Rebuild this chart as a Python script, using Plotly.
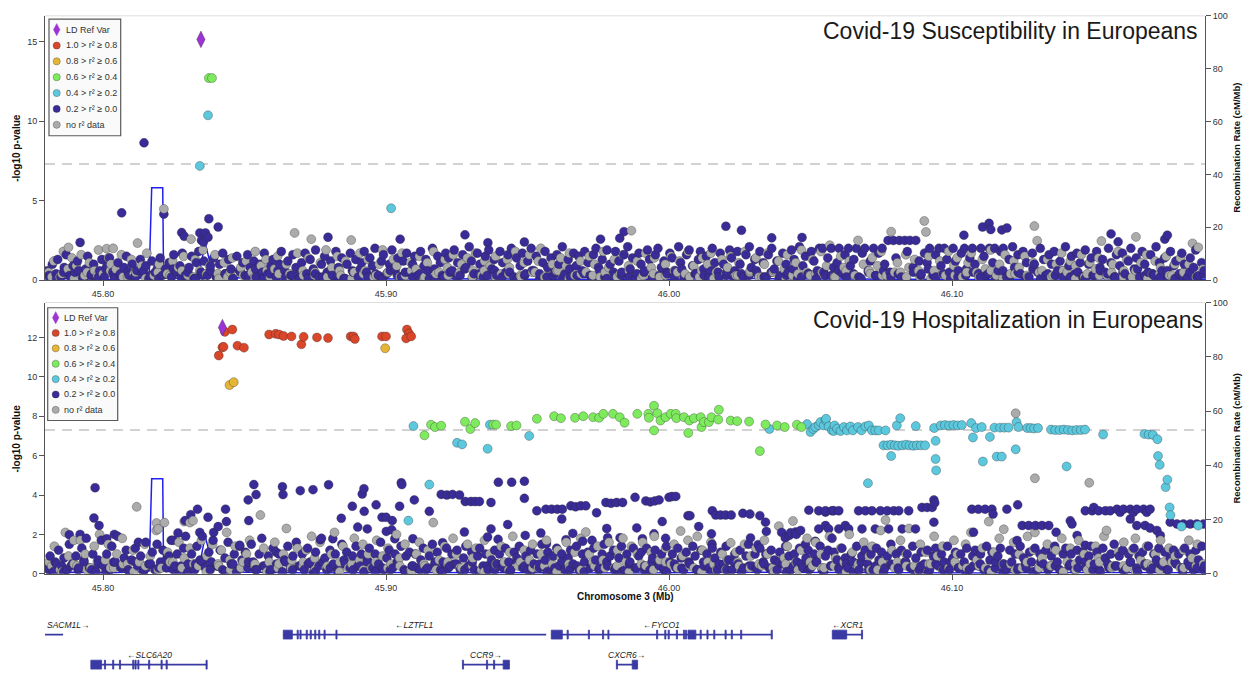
import plotly.graph_objects as go

W, H = 1250, 679
FONT = "Liberation Sans, Arial, Helvetica, sans-serif"
AXIS_COLOR = "#555555"
TEXT_COLOR = "#333333"

# ---------------------------------------------------------------- region / axes
REGION_START_KB = 45780          # positions below are kb offsets from chr3:45,780,000
X_RANGE_MB = [45.7795, 46.1894]
X_TICKS_MB = [45.80, 45.90, 46.00, 46.10]
X_TICK_TEXT = ["45.80", "45.90", "46.00", "46.10"]
GWS_LOG10P = 7.30103             # genome-wide significance, p = 5e-8

SUSC_P_RANGE = [0, 16.61]
SUSC_P_TICKS = [0, 5, 10, 15]
HOSP_P_RANGE = [0, 13.77]
HOSP_P_TICKS = [0, 2, 4, 6, 8, 10, 12]
RECOMB_TICKS = [0, 20, 40, 60, 80, 100]

PANEL_TITLES = ["Covid-19 Susceptibility in Europeans",
                "Covid-19 Hospitalization in Europeans"]

LD_LABELS = ["LD Ref Var", "1.0 > r² ≥ 0.8", "0.8 > r² ≥ 0.6", "0.6 > r² ≥ 0.4",
             "0.4 > r² ≥ 0.2", "0.2 > r² ≥ 0.0", "no r² data"]
LD_COLORS = ["#9B34D2", "#D9462A", "#E5B535", "#7DEB5D", "#5CC8DE", "#3A2C98", "#ABABAB"]

# ---------------------------------------------------------------- recombination rate (cM/Mb)
recomb_kb = [0, 10, 22, 30, 36.3, 37.2, 41.1, 41.4, 48, 53.9, 56.1, 58.9, 70, 95,
             130, 170, 210, 250, 290, 330, 370, 409.5]
recomb_rate = [0.4, 0.6, 0.3, 0.8, 1.0, 35.0, 35.0, 1.0, 0.5, 2.0, 14.0, 2.0, 0.6, 0.3,
               0.5, 0.4, 0.3, 0.6, 0.4, 0.3, 0.5, 0.4]

# ---------------------------------------------------------------- susceptibility GWAS (kb, -log10 p)
susc_ref = [(54.6, 15.13)]
susc_r2_04_06 = [(57.4, 12.7), (58.5, 12.7)]
susc_r2_02_04 = [(57.1, 10.36), (54.2, 7.18), (121.8, 4.52)]
susc_r2_00_02 = [
    (34.5, 8.63), (26.6, 4.23), (41.5, 4.15), (57.4, 3.86), (60.7, 3.34), (47.8, 2.99), (48.7, 2.76),
    (54.2, 2.97), (56.2, 2.97), (54.8, 2.5), (55.5, 2.4), (57.1, 2.7), (11.9, 2.37), (99.5, 2.7),
    (125.0, 2.58), (147.9, 2.85), (204.1, 3.05), (202.6, 2.64), (195.8, 2.58), (240.1, 3.39),
    (245.6, 3.14), (256.3, 2.66), (267.0, 2.68), (156.0, 2.35), (168.9, 2.4), (330.8, 3.34),
    (333.1, 3.57), (333.7, 3.18), (337.6, 3.16), (339.4, 3.28), (324.2, 2.83), (376.2, 2.91),
    (378.7, 2.41), (396.1, 2.83), (395.2, 2.58),
    (0.3, 0.6), (1.2, 0.1), (2.1, 1.0), (3.4, 0.4), (4.0, 1.3), (5.1, 0.2), (6.3, 0.8), (7.0, 1.6), (8.2, 0.3), (9.4, 0.9),
    (10.1, 0.5), (11.0, 1.2), (12.8, 0.2), (13.9, 0.7), (14.6, 1.5), (15.8, 0.3), (16.7, 1.0), (17.9, 0.1), (18.8, 0.6), (19.6, 1.3),
    (20.5, 0.2), (21.4, 0.9), (22.3, 1.4), (23.5, 0.5), (24.2, 0.1), (25.3, 1.1), (26.1, 0.4), (27.4, 0.8), (28.3, 1.5), (29.2, 0.3),
    (30.3, 1.0), (31.1, 0.2), (32.0, 0.6), (33.2, 1.3), (34.0, 0.4), (35.1, 0.9), (36.2, 0.1), (37.3, 1.2), (38.4, 0.5), (39.3, 0.8),
    (40.2, 1.4), (41.0, 0.3), (42.1, 0.7), (43.3, 1.1), (44.2, 0.2), (45.0, 1.6), (46.1, 0.5), (47.2, 0.9), (48.0, 1.7), (49.1, 0.3),
    (50.4, 0.8), (51.3, 1.5), (52.2, 0.1), (53.0, 1.1), (53.8, 1.8), (54.6, 0.5), (55.7, 1.2), (56.9, 0.3), (58.0, 0.9), (59.1, 1.4),
    (60.0, 0.2), (61.2, 1.0), (62.3, 1.7), (63.1, 0.4), (64.4, 1.3), (65.2, 0.7), (66.0, 0.1), (67.3, 1.5), (68.2, 0.6), (69.4, 1.1),
    (70.2, 0.3), (71.1, 1.6), (72.0, 0.8), (73.3, 1.2), (74.1, 0.2), (75.4, 1.0), (76.3, 0.5), (77.0, 1.7), (78.2, 0.4), (79.3, 0.9),
    (80.1, 1.3), (81.2, 0.2), (82.4, 1.0), (83.0, 1.8), (84.2, 0.6), (85.3, 1.2), (86.4, 0.3), (87.1, 1.6), (88.2, 0.8), (89.3, 0.1),
    (90.2, 1.1), (91.4, 1.7), (92.0, 0.4), (93.2, 1.3), (94.3, 0.7), (95.1, 1.9), (96.4, 0.2), (97.2, 1.0), (98.3, 1.5), (99.2, 0.5),
    (100.4, 1.2), (101.1, 0.3), (102.3, 1.8), (103.2, 0.8), (104.4, 1.4), (105.1, 0.1), (106.2, 1.0), (107.4, 1.7), (108.1, 0.6), (109.3, 1.3),
    (110.2, 0.2), (111.4, 1.1), (112.3, 1.8), (113.1, 0.5), (114.3, 1.4), (115.2, 0.9), (116.1, 2.0), (117.3, 0.3), (118.4, 1.2), (119.1, 1.6),
    (120.3, 0.4), (121.2, 1.0), (122.1, 1.9), (123.3, 0.7), (124.2, 1.4), (125.4, 0.2), (126.1, 1.2), (127.3, 1.7), (128.2, 0.5), (129.4, 1.0),
    (130.1, 1.5), (131.3, 0.3), (132.2, 1.8), (133.4, 0.9), (134.1, 1.3), (135.3, 0.1), (136.4, 2.0), (137.1, 0.7), (138.3, 1.5), (139.2, 1.1),
    (140.4, 0.2), (141.1, 1.7), (142.2, 1.4), (143.4, 0.6), (144.1, 1.9), (145.3, 1.1), (146.2, 0.3), (147.1, 1.6), (148.3, 0.8), (149.4, 2.1),
    (150.2, 1.2), (151.1, 0.4), (152.3, 1.7), (153.2, 1.0), (154.4, 0.2), (155.1, 1.5), (156.3, 1.9), (157.4, 0.7), (158.2, 1.3), (159.1, 0.3),
    (160.3, 1.8), (161.2, 1.1), (162.4, 0.5), (163.1, 1.6), (164.3, 2.0), (165.2, 0.2), (166.1, 1.4), (167.4, 0.9), (168.2, 1.7), (169.3, 0.4),
    (170.1, 1.2), (171.3, 2.0), (172.2, 0.6), (173.1, 1.5), (174.3, 0.1), (175.4, 1.1), (176.2, 1.8), (177.1, 0.8), (178.3, 1.4), (179.2, 0.3),
    (180.4, 1.6), (181.1, 1.0), (182.3, 2.1), (183.2, 0.4), (184.4, 1.3), (185.1, 0.2), (186.3, 1.7), (187.2, 0.9), (188.1, 1.5), (189.3, 0.6),
    (190.2, 1.8), (191.4, 1.1), (192.1, 0.3), (193.3, 1.6), (194.2, 2.0), (195.1, 0.8), (196.4, 1.3), (197.3, 0.2), (198.1, 1.9), (199.2, 1.0),
    (200.4, 0.5), (201.1, 1.8), (202.3, 1.2), (203.2, 0.3), (204.1, 1.6), (205.4, 2.1), (206.3, 0.7), (207.1, 1.4), (208.2, 0.1), (209.4, 1.7),
    (210.1, 1.0), (211.2, 0.5), (212.4, 1.9), (213.1, 1.3), (214.3, 0.2), (215.2, 1.6), (216.1, 2.0), (217.3, 0.8), (218.2, 1.2), (219.4, 0.4),
    (220.3, 1.7), (221.1, 1.4), (222.2, 0.6), (223.4, 2.1), (224.1, 1.1), (225.3, 0.2), (226.2, 1.6), (227.1, 1.9), (228.3, 0.9), (229.2, 0.4),
    (230.4, 1.3), (231.1, 1.8), (232.3, 0.7), (233.2, 1.5), (234.1, 0.2), (235.3, 2.0), (236.2, 1.1), (237.4, 0.5), (238.1, 1.7), (239.3, 1.0),
    (240.2, 0.3), (241.4, 1.9), (242.1, 1.4), (243.3, 0.6), (244.2, 1.8), (245.1, 1.0), (246.3, 0.2), (247.2, 1.6), (248.4, 2.1), (249.1, 0.8),
    (250.3, 1.3), (251.2, 0.4), (252.1, 1.8), (253.3, 1.1), (254.4, 0.2), (255.1, 1.6), (256.3, 2.0), (257.2, 0.7), (258.1, 1.2), (259.3, 0.3),
    (260.2, 1.7), (261.4, 1.0), (262.1, 0.5), (263.3, 1.9), (264.2, 1.3), (265.4, 0.1), (266.1, 2.1), (267.3, 0.9), (268.2, 1.5), (269.1, 0.4),
    (270.3, 1.8), (271.2, 1.2), (272.4, 0.6), (273.1, 2.0), (274.3, 2.0), (275.2, 0.3), (276.1, 1.4), (277.3, 2.0), (278.2, 0.8), (279.4, 1.1),
    (280.1, 2.0), (281.3, 0.4), (282.2, 1.6), (283.4, 2.0), (284.1, 0.9), (285.3, 1.3), (286.2, 2.0), (287.1, 0.2), (288.3, 1.7), (289.2, 2.0),
    (290.4, 0.6), (291.1, 1.2), (292.3, 2.0), (293.2, 0.3), (294.1, 1.7), (295.3, 2.0), (296.2, 1.0), (297.4, 2.5), (298.1, 0.5), (299.3, 2.5),
    (300.2, 1.4), (301.4, 2.5), (302.1, 0.2), (303.3, 2.5), (304.2, 1.8), (305.1, 2.5), (306.3, 0.8), (307.2, 2.5), (308.4, 1.2), (309.1, 0.4),
    (310.3, 1.7), (311.2, 1.1), (312.1, 2.0), (313.3, 0.3), (314.2, 1.6), (315.4, 2.0), (316.1, 0.9), (317.3, 2.0), (318.2, 1.3), (319.1, 0.5),
    (320.4, 2.0), (321.2, 1.2), (322.1, 0.2), (323.3, 1.7), (324.4, 2.0), (325.1, 0.7), (326.3, 1.4), (327.2, 2.0), (328.1, 1.0), (329.4, 0.4),
    (330.2, 2.0), (331.3, 1.5), (332.1, 0.3), (333.2, 2.0), (334.4, 1.1), (335.1, 2.0), (336.3, 0.6), (337.2, 1.8), (338.1, 2.0), (339.3, 0.2),
    (340.2, 1.3), (341.4, 2.1), (342.1, 0.8), (343.3, 1.6), (344.2, 0.4), (345.1, 1.8), (346.3, 1.1), (347.2, 0.2), (348.4, 1.7), (349.1, 1.0),
    (350.3, 0.5), (351.2, 2.0), (352.4, 1.3), (353.1, 0.3), (354.3, 1.6), (355.2, 1.0), (356.1, 1.8), (357.3, 0.6), (358.2, 1.2), (359.4, 0.2),
    (360.1, 2.1), (361.3, 0.9), (362.2, 1.5), (363.4, 0.4), (364.1, 1.7), (365.3, 1.1), (366.2, 0.2), (367.1, 1.9), (368.3, 1.0), (369.2, 1.4),
    (370.4, 0.3), (371.1, 1.8), (372.3, 0.8), (373.2, 1.3), (374.1, 0.5), (375.3, 2.0), (376.2, 1.1), (377.4, 0.2), (378.1, 1.6), (379.3, 0.9),
    (380.2, 1.7), (381.1, 0.4), (382.3, 1.2), (383.2, 2.0), (384.4, 0.7), (385.1, 1.4), (386.3, 0.2), (387.2, 1.8), (388.1, 1.0), (389.3, 0.5),
    (390.2, 1.6), (391.4, 0.3), (392.1, 2.1), (393.3, 1.1), (394.2, 0.6), (395.1, 1.4), (396.3, 0.2), (397.2, 1.8), (398.4, 0.9), (399.1, 1.2),
    (400.3, 0.4), (401.2, 1.7), (402.1, 1.0), (403.3, 0.2), (404.2, 1.4), (405.4, 0.8), (406.1, 1.9), (407.3, 0.3), (408.2, 1.1), (409.1, 0.6),
    (0.9, 0.3), (3.6, 0.1), (6.1, 0.5), (8.7, 0.2), (11.4, 0.6), (13.2, 0.1), (16.0, 0.4), (18.4, 0.2), (21.0, 0.7), (23.8, 0.3),
    (26.5, 0.1), (28.9, 0.5), (31.5, 0.2), (34.3, 0.6), (36.8, 0.3), (39.7, 0.1), (42.4, 0.4), (44.9, 0.7), (47.6, 0.2), (50.0, 0.5),
    (52.7, 0.1), (55.2, 0.3), (57.9, 0.6), (60.5, 0.2), (63.3, 0.4), (65.9, 0.1), (68.6, 0.5), (71.4, 0.3), (73.9, 0.7), (76.7, 0.1),
    (79.0, 0.4), (81.8, 0.6), (84.5, 0.2), (87.0, 0.3), (89.8, 0.5), (92.5, 0.1), (95.0, 0.4), (97.7, 0.2), (100.3, 0.6), (103.0, 0.3),
    (105.6, 0.1), (108.4, 0.5), (110.9, 0.7), (113.6, 0.2), (116.3, 0.4), (118.8, 0.1), (121.5, 0.6), (124.0, 0.3), (126.8, 0.5), (129.5, 0.2),
    (132.0, 0.4), (134.7, 0.6), (137.4, 0.1), (139.9, 0.3), (142.6, 0.5), (145.0, 0.2), (147.8, 0.7), (150.5, 0.1), (153.0, 0.4), (155.8, 0.3),
    (158.4, 0.6), (161.0, 0.2), (163.7, 0.5), (166.4, 0.1), (169.0, 0.3), (171.6, 0.6), (174.3, 0.4), (176.9, 0.2), (179.6, 0.5), (182.2, 0.1),
    (184.9, 0.7), (187.5, 0.3), (190.0, 0.4), (192.8, 0.2), (195.5, 0.6), (198.0, 0.1), (200.8, 0.3), (203.3, 0.5), (206.0, 0.2), (208.7, 0.4),
    (211.3, 0.6), (214.0, 0.1), (216.6, 0.3), (219.2, 0.5), (221.9, 0.2), (224.5, 0.7), (227.0, 0.1), (229.8, 0.4), (232.4, 0.3), (235.1, 0.6),
    (237.7, 0.2), (240.4, 0.5), (243.0, 0.1), (245.6, 0.4), (248.3, 0.3), (250.9, 0.6), (253.6, 0.2), (256.1, 0.5), (258.9, 0.1), (261.5, 0.3),
    (264.0, 0.7), (266.8, 0.2), (269.4, 0.4), (272.0, 0.1), (274.7, 0.5), (277.4, 0.3), (280.0, 0.6), (282.7, 0.2), (285.2, 0.4), (287.9, 0.1),
    (290.5, 0.5), (293.0, 0.3), (295.8, 0.6), (298.4, 0.2), (301.0, 0.4), (303.7, 0.1), (306.4, 0.5), (309.0, 0.3), (311.6, 0.7), (314.3, 0.2),
    (316.9, 0.4), (319.5, 0.1), (322.2, 0.6), (324.9, 0.3), (327.5, 0.5), (330.0, 0.2), (332.8, 0.4), (335.4, 0.1), (338.0, 0.6), (340.7, 0.3),
    (343.4, 0.5), (345.9, 0.2), (348.6, 0.7), (351.3, 0.1), (353.9, 0.4), (356.5, 0.3), (359.2, 0.6), (361.8, 0.2), (364.5, 0.5), (367.1, 0.1),
    (369.8, 0.3), (372.4, 0.6), (375.0, 0.4), (377.7, 0.2), (380.4, 0.5), (383.0, 0.1), (385.6, 0.7), (388.2, 0.3), (390.9, 0.4), (393.6, 0.2),
    (396.1, 0.6), (398.8, 0.1), (401.5, 0.3), (404.0, 0.5), (406.6, 0.2), (409.0, 0.4),
]
susc_no_r2 = [
    (41.5, 4.48), (51.1, 2.58), (32.2, 2.33), (21.3, 1.98), (23.6, 2.0), (7.8, 2.06), (87.7, 2.97),
    (107.7, 2.52), (93.6, 2.58), (206.7, 3.11), (310.2, 3.72), (310.8, 3.03), (298.5, 3.05),
    (349.1, 3.4), (350.1, 2.48), (372.8, 2.46), (405.0, 2.31), (407.0, 2.06), (385.0, 2.72),
    (0.8, 0.5), (2.6, 1.2), (4.7, 0.2), (6.0, 1.8), (7.6, 0.7), (9.0, 1.4),
    (10.6, 0.9), (12.3, 1.6), (13.5, 0.3), (15.2, 1.1), (17.0, 0.6), (18.4, 1.9),
    (20.0, 0.4), (21.9, 1.4), (22.8, 1.0), (24.6, 0.7), (26.5, 1.6), (28.7, 0.2),
    (30.0, 1.3), (31.6, 0.5), (33.7, 0.9), (35.5, 1.7), (38.0, 0.3),
    (39.8, 1.0), (42.7, 0.4), (44.6, 1.2), (46.6, 0.8), (48.5, 1.5),
    (50.0, 0.3), (52.6, 1.3), (54.2, 0.6), (55.3, 1.9), (57.6, 0.9),
    (59.6, 1.6), (60.6, 0.4), (62.8, 1.1), (64.0, 0.2), (65.7, 1.4), (68.7, 0.8),
    (70.6, 1.2), (72.6, 0.5), (73.8, 1.8), (75.8, 0.9), (77.6, 1.3), (79.0, 0.2),
    (80.6, 0.7), (81.7, 1.5), (84.8, 1.0), (85.9, 0.4), (88.7, 1.7),
    (90.6, 0.6), (92.6, 1.4), (94.8, 0.3), (96.8, 1.1), (98.8, 1.9),
    (100.9, 0.8), (102.8, 1.5), (104.0, 0.3), (105.7, 1.2), (108.8, 0.5),
    (110.8, 1.7), (112.6, 0.6), (113.6, 1.3), (115.7, 0.2), (117.6, 1.0), (118.8, 1.9),
    (120.8, 0.5), (122.6, 1.3), (123.8, 0.9), (125.7, 1.7), (126.8, 0.3), (128.7, 1.1),
    (130.6, 0.7), (131.8, 1.5), (133.7, 0.2), (134.6, 1.1), (136.8, 1.8), (138.7, 0.5),
    (140.8, 1.3), (141.7, 0.8), (143.7, 1.6), (145.8, 0.4), (146.7, 1.0), (148.7, 1.4),
    (150.7, 0.6), (151.6, 1.7), (153.8, 0.3), (154.8, 1.2), (156.8, 0.9), (158.7, 1.5),
    (160.7, 0.4), (162.8, 1.3), (163.6, 0.8), (165.7, 1.8), (167.7, 0.2), (168.8, 1.1),
    (170.7, 1.6), (172.7, 0.5), (173.8, 1.2), (174.7, 2.0), (176.7, 0.3), (178.8, 1.0),
    (180.8, 0.6), (181.7, 1.4), (183.7, 0.9), (184.8, 1.7), (186.7, 0.3), (188.7, 1.2),
    (190.7, 0.5), (191.8, 1.5), (193.7, 1.0), (195.7, 0.2), (196.8, 1.8), (198.7, 0.8),
    (200.7, 1.3), (202.7, 0.4), (203.8, 1.6), (205.7, 0.9), (208.8, 1.2),
    (210.8, 0.3), (211.7, 1.7), (213.7, 0.8), (214.8, 1.4), (216.7, 0.2), (218.7, 1.0),
    (220.7, 1.5), (221.8, 0.6), (223.7, 1.2), (225.7, 0.4), (226.8, 1.8), (228.7, 0.9),
    (230.7, 0.2), (231.8, 1.4), (233.7, 1.0), (234.8, 1.7), (236.7, 0.5), (238.7, 1.3),
    (240.7, 0.8), (241.8, 1.5), (243.7, 0.3), (244.7, 1.1), (246.8, 1.8), (248.7, 0.6),
    (250.7, 1.4), (251.8, 0.2), (253.7, 1.0), (254.8, 1.7), (256.8, 0.5), (258.7, 1.2),
    (260.7, 0.7), (261.8, 1.6), (263.7, 0.3), (264.8, 1.1), (266.8, 1.9), (268.7, 0.5),
    (270.7, 1.3), (271.8, 0.4), (273.7, 1.8), (275.7, 0.9), (276.8, 2.2), (278.7, 0.2),
    (280.7, 1.5), (281.8, 0.8), (283.7, 1.2), (285.7, 0.3), (286.8, 2.5), (288.7, 1.0),
    (290.7, 0.6), (291.8, 1.4), (293.7, 0.9), (295.0, 1.8), (296.8, 0.3),
    (300.7, 1.1), (301.8, 0.5), (303.7, 1.6), (304.8, 0.8), (306.8, 1.3), (308.7, 0.2),
    (311.8, 1.5), (313.7, 0.6), (315.7, 1.2), (317.7, 0.3), (318.8, 1.8),
    (320.7, 0.9), (321.8, 1.4), (323.7, 0.2), (325.7, 1.1), (326.8, 1.7), (328.7, 0.5),
    (330.7, 1.3), (331.8, 0.7), (333.7, 1.9), (335.7, 0.3), (336.8, 1.0), (338.7, 1.6),
    (340.7, 0.4), (341.8, 1.2), (343.7, 0.8), (345.7, 1.5), (346.8, 0.2), (348.7, 1.1),
    (351.8, 0.6), (353.7, 1.3), (355.7, 0.3), (356.8, 1.0), (358.7, 1.7),
    (360.7, 0.5), (361.8, 1.2), (363.7, 0.9), (365.7, 1.6), (366.8, 0.2), (368.7, 1.1),
    (370.7, 0.7), (371.8, 1.4), (374.7, 0.3), (376.8, 1.0), (378.7, 1.8),
    (380.7, 0.6), (381.8, 1.3), (383.7, 0.2), (386.8, 1.1), (388.7, 1.6),
    (390.7, 0.4), (391.8, 1.2), (393.7, 0.8), (395.7, 1.5), (396.8, 0.3), (398.7, 1.0),
    (400.7, 1.4), (401.8, 0.5), (403.7, 1.0), (408.7, 0.7),
    (1.9, 0.2), (5.5, 0.4), (9.8, 0.1), (14.4, 0.5), (18.0, 0.3), (22.6, 0.6), (27.1, 0.2), (30.9, 0.4), (35.0, 0.1), (39.4, 0.5),
    (43.7, 0.3), (47.9, 0.6), (52.0, 0.2), (56.5, 0.4), (60.9, 0.1), (65.0, 0.5), (69.5, 0.3), (73.6, 0.2), (77.9, 0.6), (82.1, 0.4),
    (86.4, 0.1), (90.8, 0.3), (94.9, 0.5), (99.3, 0.2), (103.6, 0.6), (107.9, 0.1), (112.0, 0.4), (116.4, 0.3), (120.6, 0.5), (124.9, 0.2),
    (129.0, 0.6), (133.4, 0.1), (137.7, 0.4), (141.9, 0.3), (146.1, 0.5), (150.5, 0.2), (154.7, 0.6), (159.0, 0.1), (163.3, 0.4), (167.5, 0.3),
    (171.8, 0.5), (176.0, 0.2), (180.3, 0.6), (184.6, 0.1), (188.9, 0.4), (193.1, 0.3), (197.4, 0.5), (201.7, 0.2), (205.9, 0.6), (210.2, 0.1),
    (214.5, 0.4), (218.8, 0.3), (223.0, 0.5), (227.3, 0.2), (231.5, 0.6), (235.8, 0.1), (240.0, 0.4), (244.3, 0.3), (248.6, 0.5), (252.8, 0.2),
    (257.1, 0.6), (261.3, 0.1), (265.6, 0.4), (269.9, 0.3), (274.1, 0.5), (278.4, 0.2), (282.6, 0.6), (286.9, 0.1), (291.2, 0.4), (295.4, 0.3),
    (299.7, 0.5), (303.9, 0.2), (308.2, 0.6), (312.5, 0.1), (316.7, 0.4), (321.0, 0.3), (325.2, 0.5), (329.5, 0.2), (333.8, 0.6), (338.0, 0.1),
    (342.3, 0.4), (346.5, 0.3), (350.8, 0.5), (355.1, 0.2), (359.3, 0.6), (363.6, 0.1), (367.8, 0.4), (372.1, 0.3), (376.4, 0.5), (380.6, 0.2),
    (384.9, 0.6), (389.1, 0.1), (393.4, 0.4), (397.7, 0.3), (401.9, 0.5), (406.2, 0.2),
]

# ---------------------------------------------------------------- hospitalization GWAS (kb, -log10 p)
hosp_ref = [(62.2, 12.5)]
hosp_r2_08_10 = [
    (63.1, 12.28), (65.7, 12.4), (62.2, 11.5), (62.6, 11.52), (60.9, 11.08), (67.5, 11.58), (69.8, 11.48),
    (78.7, 12.15), (81.0, 12.18), (82.2, 12.15), (83.8, 12.07), (86.6, 12.05), (90.1, 11.65), (90.9, 12.03),
    (95.6, 12.0), (99.5, 11.97), (107.5, 12.05), (108.5, 12.05), (109.0, 11.92), (118.6, 12.05),
    (120.0, 12.05), (127.4, 12.4), (128.1, 12.2), (127.1, 11.95), (128.9, 12.05),
]
hosp_r2_06_08 = [(64.7, 9.58), (66.2, 9.73), (119.7, 11.45)]
hosp_r2_04_06 = [
    (133.6, 7.03), (135.9, 7.57), (137.3, 7.45), (139.5, 7.52), (147.9, 7.72), (149.8, 7.35), (151.5, 7.65),
    (157.9, 7.57), (158.9, 7.57), (164.2, 7.5), (166.1, 7.53), (173.3, 7.87), (179.4, 8.0), (181.8, 7.9),
    (186.8, 7.92), (189.7, 8.0), (193.2, 7.95), (195.3, 7.92), (196.8, 8.12), (200.2, 8.12), (202.6, 7.95),
    (204.3, 7.67), (208.8, 8.12), (212.7, 8.12), (212.9, 7.92), (214.7, 8.53), (214.7, 7.28), (215.9, 8.15),
    (217.0, 7.78), (218.8, 7.95), (220.6, 8.12), (222.4, 8.12), (222.6, 7.9), (225.3, 7.95), (226.8, 7.15),
    (227.2, 7.78), (228.8, 7.9), (231.2, 7.95), (231.5, 7.45), (232.3, 7.7), (234.1, 7.7), (235.0, 7.95),
    (237.6, 8.33), (237.4, 7.83), (241.8, 7.78), (244.1, 7.75), (248.3, 7.73), (252.1, 6.23), (254.1, 7.58),
    (258.2, 7.53), (260.9, 7.45), (265.2, 7.57), (266.8, 7.45),
]
hosp_r2_02_04 = [
    (129.7, 7.5), (127.9, 2.7), (135.3, 4.53), (145.1, 6.65), (146.9, 6.57), (155.9, 6.35), (156.7, 7.57),
    (170.6, 7.0), (255.5, 7.35),
    (268.8, 7.6), (270.0, 7.2), (271.0, 7.35), (271.7, 7.45), (272.9, 7.55), (273.5, 7.7), (274.7, 7.53),
    (275.3, 7.8), (275.5, 7.87), (276.4, 7.48), (277.6, 7.28), (278.2, 7.25), (278.5, 7.53), (279.4, 7.37),
    (280.6, 7.25), (281.8, 7.45), (282.9, 7.28), (284.1, 7.48), (285.0, 7.28), (286.8, 7.45), (288.0, 7.28),
    (289.4, 7.48), (290.3, 4.6), (290.6, 7.53), (291.7, 7.28), (292.9, 7.28), (294.1, 7.28), (296.5, 7.28),
    (295.8, 6.52), (297.2, 6.52), (298.5, 6.55), (299.8, 6.52), (301.0, 6.5), (302.5, 6.52), (303.8, 6.55),
    (305.0, 6.52), (306.3, 6.5), (307.6, 6.52), (309.0, 6.52), (310.5, 6.52),
    (298.5, 5.98), (300.5, 7.53), (301.7, 7.9), (307.2, 7.5),
    (313.7, 7.4), (314.2, 6.75), (314.2, 5.83), (314.4, 5.25), (316.0, 7.53), (317.5, 7.55), (319.0, 7.53),
    (320.5, 7.55), (322.0, 7.53), (323.5, 7.55), (326.8, 7.65), (327.4, 6.92), (328.5, 7.4), (330.5, 7.45),
    (330.9, 5.7), (333.4, 6.95), (335.0, 7.42), (335.8, 5.95), (337.0, 7.42), (337.6, 5.95), (338.5, 7.42),
    (340.0, 7.42), (342.8, 7.7), (342.5, 6.32), (343.5, 7.45), (346.6, 7.4), (347.8, 7.4), (349.0, 7.38),
    (350.4, 7.4), (355.0, 7.32), (356.5, 7.3), (358.0, 7.3), (359.5, 7.32), (360.5, 5.45), (361.0, 7.3),
    (362.5, 7.28), (364.0, 7.3), (365.5, 7.3), (367.0, 7.32), (373.4, 7.07), (388.0, 7.1), (389.5, 7.07),
    (391.0, 7.05), (392.6, 6.83), (392.8, 5.98), (393.4, 5.53), (395.5, 4.4), (396.1, 4.78), (396.9, 3.37),
    (397.2, 2.98), (401.1, 2.4), (407.0, 2.45),
]
hosp_r2_00_02 = [
    (17.2, 4.37), (16.8, 2.83), (53.4, 3.28), (51.0, 3.0), (49.0, 2.7), (57.1, 2.87), (60.7, 2.4),
    (63.3, 3.28), (63.6, 2.65), (71.3, 3.75), (73.3, 4.53), (74.1, 4.02), (71.5, 2.7), (83.4, 4.42),
    (83.6, 4.02), (89.7, 4.22), (94.2, 4.27), (99.7, 4.52), (104.2, 2.82), (108.1, 3.43), (111.6, 4.05),
    (112.2, 4.32), (112.3, 3.17), (116.5, 3.5), (118.6, 2.87), (120.0, 2.87), (122.2, 2.7), (124.8, 3.43),
    (125.4, 4.62), (125.6, 4.53), (122.0, 2.23), (123.1, 1.78), (130.0, 3.75),
    (21.3, 1.78), (18.6, 2.45), (8.1, 1.98), (11.9, 2.0), (24.0, 2.0), (32.5, 1.6), (44.8, 1.7), (46.5, 2.07),
    (54.2, 2.1), (58.9, 1.7), (68.3, 1.45), (81.2, 1.1), (96.8, 1.73), (101.2, 1.78), (110.0, 2.37),
    (113.4, 2.28), (120.1, 2.15), (129.5, 1.78),
    (135.3, 3.17), (139.5, 4.03), (141.5, 4.0), (143.5, 4.03), (146.0, 4.0), (148.0, 3.67), (150.0, 3.67),
    (151.5, 3.67), (153.0, 3.67), (159.7, 4.65), (164.4, 4.65), (168.9, 4.7), (168.9, 3.83), (157.1, 3.62),
    (173.3, 3.2), (176.5, 3.28), (178.5, 3.28), (180.5, 3.28), (182.3, 3.28), (182.1, 2.78), (185.3, 3.45),
    (187.0, 3.4), (188.8, 3.45), (190.6, 3.45), (194.4, 3.1), (197.7, 3.62), (199.5, 3.58), (201.5, 3.62),
    (203.6, 3.62), (208.0, 3.88), (211.8, 3.7), (213.4, 3.65), (215.0, 3.7), (216.5, 3.75), (220.0, 3.88),
    (221.0, 3.92), (222.4, 3.93), (208.6, 2.33), (217.6, 2.65), (226.7, 2.95), (227.4, 2.95), (235.3, 3.2),
    (236.5, 2.98), (238.2, 2.98), (240.0, 2.98), (242.0, 2.98), (246.1, 3.07), (248.6, 3.03), (252.1, 2.95),
    (254.1, 2.62), (254.4, 2.15), (259.8, 2.1), (269.4, 3.23), (272.9, 3.2), (275.3, 3.13), (278.2, 3.2),
    (147.7, 2.12), (157.1, 2.28), (163.0, 2.5), (186.0, 2.05), (198.0, 2.3), (230.5, 2.4), (262.5, 1.95),
    (265.0, 2.0), (266.5, 2.2),
    (140.0, 1.58), (155.9, 1.87), (159.6, 1.75), (169.2, 1.95), (174.7, 2.07), (176.7, 1.52), (183.6, 1.73),
    (189.5, 1.65), (192.8, 1.7), (198.3, 1.83), (202.7, 1.83), (210.6, 1.78), (214.7, 2.03), (218.8, 1.8),
    (235.0, 2.03), (235.2, 1.5), (248.8, 1.82), (251.5, 1.48), (261.1, 1.82), (262.9, 2.08), (264.7, 2.12),
    (268.2, 1.5), (271.7, 1.65), (277.6, 1.8),
    (275.3, 3.2), (277.6, 3.2), (280.0, 3.2), (287.0, 3.2), (289.4, 3.2), (291.7, 3.2), (294.7, 3.2),
    (297.1, 3.2), (299.4, 3.2), (301.2, 3.2), (304.7, 3.2), (309.4, 3.37), (311.2, 3.37), (313.0, 3.37),
    (313.6, 3.75), (313.9, 3.6), (313.6, 2.62), (327.0, 3.28), (329.3, 3.28), (331.7, 3.28), (334.1, 3.28),
    (334.5, 3.03), (339.4, 3.28), (343.2, 3.5), (344.8, 2.45), (347.1, 2.45), (349.5, 2.45), (351.8, 2.45),
    (354.2, 2.45), (356.8, 2.11), (361.8, 2.69), (362.4, 2.53), (367.1, 3.2), (369.5, 3.2), (371.8, 3.2),
    (374.2, 3.2), (375.9, 3.2), (370.1, 3.37), (378.3, 3.28), (380.6, 3.28), (383.0, 3.28), (385.3, 3.28),
    (387.7, 3.28), (390.0, 3.28), (379.4, 3.12), (384.1, 3.12), (388.8, 3.12), (383.0, 2.78), (385.3, 2.45),
    (388.2, 2.45), (390.0, 2.32), (392.4, 2.2), (393.6, 1.95), (397.1, 2.62), (399.5, 2.53), (401.8, 2.53),
    (404.2, 2.53), (406.5, 2.53), (408.9, 2.53),
    (272.9, 2.28), (276.4, 2.28), (280.0, 2.28), (283.5, 2.28), (288.2, 2.28), (292.9, 2.28), (297.6, 2.28),
    (302.4, 2.28), (307.1, 2.28), (275.3, 2.45), (282.3, 2.45), (327.6, 2.11), (343.0, 1.69), (364.2, 1.95),
    (367.1, 1.45),
    (0.5, 0.3), (1.3, 0.9), (2.4, 0.1), (3.1, 0.6), (4.3, 1.2), (5.4, 0.4), (6.2, 0.8), (7.3, 0.2), (8.1, 1.5), (9.2, 0.5),
    (10.4, 0.9), (11.2, 0.2), (12.5, 1.3), (13.3, 0.6), (14.1, 1.8), (15.2, 0.3), (16.4, 1.0), (17.5, 0.1), (18.3, 0.7), (19.4, 1.7),
    (20.2, 0.4), (21.3, 1.0), (22.5, 0.2), (23.1, 1.4), (24.4, 0.6), (25.2, 1.9), (26.3, 0.3), (27.5, 0.8), (28.2, 1.2), (29.3, 0.1),
    (30.1, 0.7), (31.4, 1.3), (32.2, 0.4), (33.3, 0.9), (34.5, 0.2), (35.1, 1.6), (36.2, 0.5), (37.4, 1.1), (38.3, 0.2), (39.1, 1.5),
    (40.3, 0.6), (41.2, 1.2), (42.4, 0.3), (43.3, 0.9), (44.1, 1.7), (45.4, 0.4), (46.2, 1.0), (47.3, 0.1), (48.5, 1.3), (49.2, 1.9),
    (50.1, 0.5), (51.3, 1.0), (52.4, 0.2), (53.2, 1.4), (54.3, 0.7), (55.1, 1.9), (56.2, 0.3), (57.4, 1.1), (58.3, 0.6), (59.1, 2.1),
    (60.2, 0.4), (61.4, 1.2), (62.3, 0.2), (63.1, 0.8), (64.2, 1.6), (65.3, 0.5), (66.4, 1.0), (67.2, 0.1), (68.3, 1.4), (69.1, 0.7),
    (70.3, 1.1), (71.2, 0.3), (72.4, 1.5), (73.1, 0.6), (74.3, 0.2), (75.2, 1.0), (76.1, 1.8), (77.3, 0.4), (78.4, 0.9), (79.2, 0.2),
    (80.1, 1.3), (81.3, 0.5), (82.2, 1.0), (83.4, 0.1), (84.1, 0.7), (85.3, 1.4), (86.2, 0.3), (87.1, 0.9), (88.3, 1.6), (89.2, 0.4),
    (90.4, 1.0), (91.1, 0.2), (92.3, 1.3), (93.2, 0.6), (94.4, 0.1), (95.1, 1.1), (96.3, 0.4), (97.2, 1.8), (98.4, 0.8), (99.1, 0.2),
    (100.2, 1.2), (101.4, 0.5), (102.1, 1.0), (103.3, 0.2), (104.4, 1.5), (105.2, 0.7), (106.1, 1.1), (107.3, 0.3), (108.2, 0.9), (109.4, 1.4),
    (110.1, 0.4), (111.3, 1.0), (112.2, 0.1), (113.4, 0.7), (114.1, 1.3), (115.3, 0.3), (116.2, 1.0), (117.4, 0.5), (118.1, 1.6), (119.2, 0.2),
    (120.3, 0.8), (121.1, 1.2), (122.4, 0.3), (123.2, 1.0), (124.1, 0.6), (125.3, 1.4), (126.4, 0.2), (127.1, 0.9), (128.3, 1.1), (129.2, 0.4),
    (130.4, 1.0), (131.1, 0.3), (132.3, 0.7), (133.2, 1.3), (134.1, 0.2), (135.3, 0.9), (136.4, 1.5), (137.2, 0.5), (138.1, 1.1), (139.3, 0.2),
    (140.2, 0.6), (141.4, 1.3), (142.1, 0.3), (143.3, 1.0), (144.2, 0.5), (145.1, 1.2), (146.3, 0.2), (147.4, 0.8), (148.2, 1.4), (149.1, 0.4),
    (150.3, 1.1), (151.2, 0.2), (152.4, 0.9), (153.1, 1.3), (154.3, 0.4), (155.2, 1.0), (156.1, 0.2), (157.3, 0.7), (158.4, 1.2), (159.2, 0.5),
    (160.1, 1.0), (161.3, 0.3), (162.2, 1.3), (163.4, 0.6), (164.1, 0.2), (165.3, 1.1), (166.2, 0.8), (167.1, 1.4), (168.3, 0.3), (169.4, 0.9),
    (170.2, 0.2), (171.1, 1.2), (172.3, 0.5), (173.4, 1.0), (174.2, 0.3), (175.1, 1.5), (176.3, 0.7), (177.2, 1.1), (178.4, 0.2), (179.1, 0.9),
    (180.3, 1.3), (181.2, 0.4), (182.1, 1.0), (183.3, 0.2), (184.4, 0.8), (185.2, 1.2), (186.1, 0.5), (187.3, 1.4), (188.2, 0.2), (189.4, 1.0),
    (190.1, 0.6), (191.3, 1.1), (192.2, 0.3), (193.4, 1.3), (194.1, 0.7), (195.2, 0.2), (196.4, 1.0), (197.1, 1.5), (198.3, 0.4), (199.2, 0.9),
    (200.4, 1.2), (201.1, 0.3), (202.3, 0.8), (203.2, 1.4), (204.4, 0.2), (205.1, 1.0), (206.2, 0.6), (207.4, 1.3), (208.1, 0.3), (209.3, 0.9),
    (210.2, 1.1), (211.4, 0.4), (212.1, 1.3), (213.3, 0.2), (214.2, 0.8), (215.1, 1.2), (216.3, 0.5), (217.4, 1.0), (218.2, 0.2), (219.1, 1.4),
    (220.3, 0.6), (221.2, 1.0), (222.4, 0.3), (223.1, 1.3), (224.3, 0.8), (225.2, 0.2), (226.1, 1.1), (227.3, 0.5), (228.4, 1.4), (229.2, 0.9),
    (230.1, 0.2), (231.3, 1.2), (232.2, 0.6), (233.4, 1.0), (234.1, 0.3), (235.3, 1.3), (236.2, 0.8), (237.1, 0.2), (238.3, 1.1), (239.4, 0.5),
    (240.2, 1.4), (241.1, 0.7), (242.3, 0.2), (243.2, 1.0), (244.4, 0.5), (245.1, 1.2), (246.3, 0.3), (247.2, 0.9), (248.1, 1.5), (249.3, 0.4),
    (250.4, 1.0), (251.2, 0.2), (252.1, 1.3), (253.3, 0.6), (254.2, 1.0), (255.4, 0.3), (256.1, 1.2), (257.3, 0.7), (258.2, 0.2), (259.1, 1.1),
    (260.3, 0.5), (261.2, 1.4), (262.4, 0.9), (263.1, 0.2), (264.3, 1.0), (265.2, 0.6), (266.1, 1.3), (267.3, 0.3), (268.4, 0.8), (269.2, 1.2),
    (270.1, 0.3), (271.3, 1.0), (272.2, 0.6), (273.4, 1.4), (274.1, 0.2), (275.3, 0.9), (276.2, 1.2), (277.1, 0.4), (278.3, 1.1), (279.4, 0.7),
    (280.2, 0.2), (281.1, 1.3), (282.3, 0.8), (283.2, 0.3), (284.4, 1.0), (285.1, 0.6), (286.3, 1.4), (287.2, 0.2), (288.1, 0.9), (289.3, 1.2),
    (290.2, 0.5), (291.4, 1.0), (292.1, 0.2), (293.3, 1.3), (294.2, 0.7), (295.1, 1.1), (296.3, 0.3), (297.2, 0.9), (298.4, 1.5), (299.1, 0.4),
    (300.3, 1.0), (301.2, 0.2), (302.1, 1.2), (303.4, 0.6), (304.2, 1.0), (305.3, 0.3), (306.1, 1.4), (307.2, 0.8), (308.4, 0.2), (309.1, 1.1),
    (310.2, 0.5), (311.3, 1.2), (312.1, 0.2), (313.4, 0.9), (314.2, 1.3), (315.1, 0.4), (316.3, 1.0), (317.2, 0.6), (318.4, 1.4), (319.1, 0.2),
    (320.3, 0.8), (321.2, 1.1), (322.4, 0.3), (323.1, 1.0), (324.3, 0.6), (325.2, 1.3), (326.1, 0.2), (327.3, 0.9), (328.2, 1.2), (329.4, 0.4),
    (330.1, 1.0), (331.3, 0.2), (332.2, 1.4), (333.4, 0.7), (334.1, 1.1), (335.3, 0.3), (336.2, 0.9), (337.1, 1.3), (338.3, 0.5), (339.2, 0.2),
    (340.4, 1.2), (341.1, 0.6), (342.3, 1.0), (343.2, 0.2), (344.1, 1.4), (345.3, 0.8), (346.2, 0.3), (347.4, 1.1), (348.1, 0.6), (349.3, 1.3),
    (350.2, 0.2), (351.1, 1.0), (352.3, 0.5), (353.2, 1.2), (354.4, 0.3), (355.1, 0.9), (356.3, 1.4), (357.2, 0.6), (358.1, 0.2), (359.3, 1.0),
    (360.2, 1.3), (361.4, 0.4), (362.1, 1.0), (363.3, 0.2), (364.2, 1.2), (365.1, 0.7), (366.3, 1.1), (367.2, 0.3), (368.4, 0.9), (369.1, 1.4),
    (370.3, 0.5), (371.2, 1.1), (372.1, 0.2), (373.3, 1.3), (374.2, 0.8), (375.4, 0.3), (376.1, 1.0), (377.3, 1.5), (378.2, 0.4), (379.1, 0.9),
    (380.3, 1.2), (381.2, 0.2), (382.4, 1.0), (383.1, 0.6), (384.3, 1.3), (385.2, 0.3), (386.1, 0.9), (387.3, 1.1), (388.2, 0.5), (389.4, 1.4),
    (390.1, 0.2), (391.3, 1.0), (392.2, 0.7), (393.1, 1.3), (394.3, 0.4), (395.2, 1.1), (396.4, 0.2), (397.1, 0.8), (398.3, 1.2), (399.2, 0.5),
    (400.1, 1.0), (401.3, 0.3), (402.2, 1.3), (403.4, 0.6), (404.1, 1.0), (405.3, 0.2), (406.2, 1.2), (407.1, 0.7), (408.3, 1.4), (409.2, 0.4),
    (0.9, 0.2), (3.6, 0.5), (6.1, 0.1), (8.7, 0.4), (11.4, 0.3), (13.2, 0.7), (16.0, 0.2), (18.4, 0.5), (21.0, 0.1), (23.8, 0.6),
    (26.5, 0.4), (28.9, 0.2), (31.5, 0.6), (34.3, 0.1), (36.8, 0.5), (39.7, 0.3), (42.4, 0.7), (44.9, 0.2), (47.6, 0.4), (50.0, 0.1),
    (52.7, 0.5), (55.2, 0.6), (57.9, 0.2), (60.5, 0.4), (63.3, 0.1), (65.9, 0.5), (68.6, 0.3), (71.4, 0.6), (73.9, 0.2), (76.7, 0.4),
    (79.0, 0.1), (81.8, 0.3), (84.5, 0.6), (87.0, 0.2), (89.8, 0.4), (92.5, 0.5), (95.0, 0.1), (97.7, 0.6), (100.3, 0.3), (103.0, 0.1),
    (105.6, 0.5), (108.4, 0.2), (110.9, 0.4), (113.6, 0.6), (116.3, 0.1), (118.8, 0.3), (121.5, 0.2), (124.0, 0.6), (126.8, 0.1), (129.5, 0.4),
    (132.0, 0.2), (134.7, 0.3), (137.4, 0.6), (139.9, 0.1), (142.6, 0.4), (145.0, 0.5), (147.8, 0.2), (150.5, 0.6), (153.0, 0.1), (155.8, 0.4),
    (158.4, 0.2), (161.0, 0.5), (163.7, 0.1), (166.4, 0.6), (169.0, 0.4), (171.6, 0.2), (174.3, 0.5), (176.9, 0.1), (179.6, 0.3), (182.2, 0.6),
    (184.9, 0.2), (187.5, 0.4), (190.0, 0.1), (192.8, 0.5), (195.5, 0.3), (198.0, 0.6), (200.8, 0.2), (203.3, 0.1), (206.0, 0.5), (208.7, 0.3),
    (211.3, 0.2), (214.0, 0.6), (216.6, 0.4), (219.2, 0.1), (221.9, 0.5), (224.5, 0.3), (227.0, 0.6), (229.8, 0.2), (232.4, 0.4), (235.1, 0.1),
    (237.7, 0.5), (240.4, 0.2), (243.0, 0.6), (245.6, 0.1), (248.3, 0.4), (250.9, 0.3), (253.6, 0.5), (256.1, 0.2), (258.9, 0.6), (261.5, 0.1),
    (264.0, 0.4), (266.8, 0.5), (269.4, 0.2), (272.0, 0.6), (274.7, 0.1), (277.4, 0.4), (280.0, 0.3), (282.7, 0.5), (285.2, 0.1), (287.9, 0.6),
    (290.5, 0.2), (293.0, 0.4), (295.8, 0.1), (298.4, 0.5), (301.0, 0.3), (303.7, 0.6), (306.4, 0.2), (309.0, 0.4), (311.6, 0.1), (314.3, 0.5),
    (316.9, 0.2), (319.5, 0.6), (322.2, 0.3), (324.9, 0.1), (327.5, 0.4), (330.0, 0.5), (332.8, 0.2), (335.4, 0.6), (338.0, 0.1), (340.7, 0.4),
    (343.4, 0.3), (345.9, 0.5), (348.6, 0.1), (351.3, 0.6), (353.9, 0.2), (356.5, 0.4), (359.2, 0.1), (361.8, 0.5), (364.5, 0.3), (367.1, 0.6),
    (369.8, 0.2), (372.4, 0.1), (375.0, 0.5), (377.7, 0.4), (380.4, 0.2), (383.0, 0.6), (385.6, 0.1), (388.2, 0.4), (390.9, 0.3), (393.6, 0.5),
    (396.1, 0.2), (398.8, 0.6), (401.5, 0.1), (404.0, 0.4), (406.6, 0.3), (409.0, 0.2),
]
hosp_no_r2 = [
    (342.5, 8.15), (349.3, 4.85), (368.5, 4.62), (38.9, 2.58), (39.5, 2.28), (48.7, 2.65), (50.7, 2.6),
    (0.9, 0.6), (2.8, 1.4), (4.8, 0.2), (6.7, 2.1), (7.8, 0.9), (9.7, 1.7),
    (10.8, 0.4), (12.0, 1.7), (13.7, 1.0), (15.6, 0.3), (16.9, 1.4), (18.8, 2.0),
    (20.8, 0.7), (21.9, 1.5), (23.8, 0.3), (24.9, 1.0), (26.8, 1.8), (28.7, 0.5),
    (30.6, 1.2), (31.9, 3.4), (32.8, 0.6), (34.8, 1.5), (36.7, 0.9), (38.8, 2.2),
    (40.7, 0.3), (41.7, 2.6), (42.8, 1.1), (44.7, 0.6), (46.8, 1.6), (48.7, 0.8),
    (50.7, 1.3), (51.8, 2.7), (53.7, 0.4), (54.8, 1.7), (56.7, 0.9), (58.7, 1.5),
    (60.7, 0.5), (61.8, 1.2), (63.7, 2.1), (64.8, 0.7), (66.7, 1.4), (68.7, 0.3),
    (70.7, 1.0), (71.8, 1.7), (73.7, 0.5), (75.6, 2.98), (76.8, 1.3), (78.7, 0.6),
    (80.7, 1.6), (81.8, 0.3), (83.7, 1.0), (84.8, 2.3), (86.7, 0.7), (88.7, 1.3),
    (90.7, 0.4), (91.8, 1.2), (93.7, 1.9), (94.8, 0.8), (96.7, 1.6), (98.8, 0.3),
    (100.7, 1.0), (101.8, 2.1), (103.7, 0.6), (104.8, 1.4), (106.7, 0.3), (108.8, 1.8),
    (110.7, 0.7), (111.8, 1.5), (113.7, 1.0), (114.8, 0.3), (116.7, 1.7), (118.8, 0.9),
    (120.7, 1.3), (121.8, 0.5), (123.7, 2.0), (124.8, 0.8), (126.7, 1.5), (128.8, 0.2),
    (130.7, 1.0), (131.8, 1.6), (133.7, 0.4), (134.8, 1.2), (136.7, 2.6), (138.8, 0.7),
    (140.7, 1.4), (141.8, 0.5), (143.7, 1.8), (144.8, 1.0), (146.7, 0.3), (148.8, 1.5),
    (150.7, 0.8), (151.8, 1.3), (153.7, 0.2), (154.8, 1.7), (156.7, 1.0), (158.8, 0.5),
    (160.7, 1.4), (161.8, 0.6), (163.7, 1.1), (164.8, 1.9), (166.7, 0.4), (168.8, 1.2),
    (170.7, 0.7), (171.8, 1.5), (173.7, 0.3), (174.8, 1.0), (176.7, 1.7), (178.8, 0.5),
    (180.7, 1.2), (181.8, 0.8), (183.7, 1.6), (184.8, 0.3), (186.7, 1.1), (188.8, 1.8),
    (190.6, 2.12), (191.8, 1.0), (193.7, 0.4), (194.8, 1.4), (196.7, 0.7), (198.8, 1.6),
    (200.7, 0.3), (201.8, 1.2), (203.7, 1.8), (204.8, 0.6), (206.7, 1.4), (208.8, 1.0),
    (210.7, 1.6), (211.8, 0.4), (213.7, 1.1), (214.8, 1.9), (216.7, 0.7), (218.8, 1.3),
    (220.7, 0.5), (221.8, 1.5), (224.1, 2.17), (224.8, 0.9), (226.7, 1.7), (228.8, 0.3),
    (230.0, 1.9), (231.8, 1.2), (233.7, 0.6), (234.8, 1.6), (236.7, 0.2), (238.8, 1.0),
    (240.7, 0.7), (241.8, 1.57), (243.7, 1.1), (244.8, 0.4), (246.7, 1.5), (248.8, 0.9),
    (250.7, 1.3), (251.8, 0.5), (253.7, 1.7), (254.8, 1.0), (256.7, 0.3), (258.8, 2.42),
    (260.7, 0.8), (261.8, 1.4), (263.8, 2.68), (264.8, 0.6), (266.7, 1.2), (268.8, 1.8),
    (270.7, 0.4), (271.8, 1.6), (273.7, 1.0), (274.8, 0.3), (276.7, 1.9), (278.8, 0.8),
    (280.7, 1.3), (281.8, 0.6), (283.7, 2.0), (284.8, 1.1), (286.7, 0.4), (288.8, 1.6),
    (290.7, 0.9), (291.8, 1.4), (293.7, 0.2), (294.8, 2.2), (296.5, 2.73), (298.8, 1.2),
    (300.7, 0.6), (301.8, 1.7), (303.7, 1.0), (304.8, 2.3), (306.7, 0.4), (308.8, 1.5),
    (310.7, 1.1), (311.8, 0.5), (313.7, 1.9), (314.8, 0.9), (316.7, 1.4), (318.8, 0.3),
    (320.7, 1.7), (321.8, 1.0), (323.7, 0.4), (324.8, 1.5), (326.7, 2.1), (328.8, 0.7),
    (330.7, 1.3), (331.8, 0.3), (333.0, 2.65), (334.8, 1.1), (336.7, 1.8), (338.3, 2.26),
    (340.7, 0.5), (341.8, 1.6), (343.7, 1.0), (344.8, 0.3), (346.7, 1.9), (348.8, 1.2),
    (349.3, 2.1), (351.8, 0.8), (353.7, 1.5), (354.8, 0.4), (356.7, 1.2), (358.8, 1.8),
    (360.7, 0.6), (361.8, 1.3), (363.7, 0.2), (364.8, 1.7), (366.7, 1.0), (368.8, 0.5),
    (370.7, 1.4), (371.8, 0.8), (373.7, 1.9), (374.6, 2.2), (376.7, 0.4), (378.8, 1.1),
    (380.7, 1.6), (381.8, 0.3), (383.7, 1.2), (384.8, 1.8), (386.7, 0.7), (388.8, 1.4),
    (390.7, 0.4), (391.8, 1.0), (393.7, 1.7), (394.8, 0.6), (396.7, 1.3), (398.8, 0.9),
    (400.7, 0.3), (401.8, 1.2), (403.7, 1.7), (404.8, 0.8), (406.7, 1.5), (408.8, 0.5),
    (1.9, 0.4), (5.5, 0.1), (9.8, 0.5), (14.4, 0.2), (18.0, 0.6), (22.6, 0.3), (27.1, 0.5), (30.9, 0.1), (35.0, 0.4), (39.4, 0.2),
    (43.7, 0.6), (47.9, 0.3), (52.0, 0.5), (56.5, 0.1), (60.9, 0.4), (65.0, 0.2), (69.5, 0.6), (73.6, 0.4), (77.9, 0.1), (82.1, 0.5),
    (86.4, 0.3), (90.8, 0.6), (94.9, 0.2), (99.3, 0.4), (103.6, 0.1), (107.9, 0.5), (112.0, 0.2), (116.4, 0.6), (120.6, 0.3), (124.9, 0.4),
    (129.0, 0.1), (133.4, 0.5), (137.7, 0.2), (141.9, 0.6), (146.1, 0.3), (150.5, 0.4), (154.7, 0.1), (159.0, 0.5), (163.3, 0.2), (167.5, 0.6),
    (171.8, 0.3), (176.0, 0.4), (180.3, 0.1), (184.6, 0.5), (188.9, 0.2), (193.1, 0.6), (197.4, 0.3), (201.7, 0.4), (205.9, 0.1), (210.2, 0.5),
    (214.5, 0.2), (218.8, 0.6), (223.0, 0.3), (227.3, 0.4), (231.5, 0.1), (235.8, 0.5), (240.0, 0.2), (244.3, 0.6), (248.6, 0.3), (252.8, 0.4),
    (257.1, 0.1), (261.3, 0.5), (265.6, 0.2), (269.9, 0.6), (274.1, 0.3), (278.4, 0.4), (282.6, 0.1), (286.9, 0.5), (291.2, 0.2), (295.4, 0.6),
    (299.7, 0.3), (303.9, 0.4), (308.2, 0.1), (312.5, 0.5), (316.7, 0.2), (321.0, 0.6), (325.2, 0.3), (329.5, 0.4), (333.8, 0.1), (338.0, 0.5),
    (342.3, 0.2), (346.5, 0.6), (350.8, 0.3), (355.1, 0.4), (359.3, 0.1), (363.6, 0.5), (367.8, 0.2), (372.1, 0.6), (376.4, 0.3), (380.6, 0.4),
    (384.9, 0.1), (389.1, 0.5), (393.4, 0.2), (397.7, 0.6), (401.9, 0.3), (406.2, 0.4),
]

# ---------------------------------------------------------------- gene track (Mb)
gene_names = ["SACM1L", "LZTFL1", "FYCO1", "XCR1", "SLC6A20", "CCR9", "CXCR6"]
gene_strand = ["+", "-", "-", "-", "-", "+", "+"]
gene_row = [0, 0, 0, 0, 1, 1, 1]
gene_start = [45.7789, 45.8637, 45.9584, 46.0577, 45.7957, 45.9270, 45.9814]
gene_end = [45.7859, 45.9566, 46.0365, 46.0684, 45.8368, 45.9436, 45.9889]
gene_exons = [
    [],
    [(45.8637, 45.8669), (45.8686, 45.8690), (45.8696, 45.8700), (45.8718, 45.8722), (45.8732, 45.8736),
     (45.8748, 45.8752), (45.8762, 45.8766), (45.8781, 45.8785), (45.8823, 45.8827)],
    [(45.9584, 45.9623), (45.9640, 45.9644), (45.9715, 45.9719), (45.9765, 45.9769), (45.9784, 45.9788),
     (45.9956, 45.9960), (45.9985, 45.9989), (45.9997, 46.0001), (46.0026, 46.0030), (46.0051, 46.0055),
     (46.0058, 46.0062), (46.0067, 46.0095), (46.0110, 46.0114), (46.0134, 46.0138), (46.0158, 46.0162),
     (46.0198, 46.0202), (46.0220, 46.0224), (46.0253, 46.0257), (46.0361, 46.0365)],
    [(46.0577, 46.0628), (46.0680, 46.0684)],
    [(45.7957, 45.7995), (45.8005, 45.8009), (45.8034, 45.8038), (45.8058, 45.8062), (45.8105, 45.8109),
     (45.8113, 45.8117), (45.8123, 45.8127), (45.8161, 45.8165), (45.8205, 45.8209), (45.8223, 45.8227),
     (45.8364, 45.8368)],
    [(45.9270, 45.9274), (45.9355, 45.9359), (45.9380, 45.9384), (45.9414, 45.9436)],
    [(45.9814, 45.9818), (45.9870, 45.9889)],
]
GENE_COLOR = "#3A3AA4"


def to_mb(pairs):
    xs = [(REGION_START_KB + kb) / 1000.0 for kb, _ in pairs]
    ys = [p for _, p in pairs]
    return xs, ys


def merged_by_position(groups):
    """Combine (pairs, colour) groups into one list ordered along the chromosome."""
    rows = sorted((kb, p, color) for pairs, color in groups for kb, p in pairs)
    xs = [(REGION_START_KB + kb) / 1000.0 for kb, _, _ in rows]
    ys = [p for _, p, _ in rows]
    cs = [c for _, _, c in rows]
    return xs, ys, cs


def px_x(px):
    return px / W


def px_y(py):
    return 1 - py / H


fig = go.Figure()

panels = [
    dict(xaxis="x", recomb_axis="y", p_axis="y2",
         background=[(susc_r2_00_02, LD_COLORS[5]), (susc_no_r2, LD_COLORS[6])],
         layers=[(susc_r2_02_04, LD_COLORS[4]), (susc_r2_04_06, LD_COLORS[3])],
         ref=susc_ref),
    dict(xaxis="x2", recomb_axis="y3", p_axis="y4",
         background=[(hosp_r2_00_02, LD_COLORS[5]), (hosp_no_r2, LD_COLORS[6])],
         layers=[(hosp_r2_02_04, LD_COLORS[4]), (hosp_r2_04_06, LD_COLORS[3]),
                 (hosp_r2_06_08, LD_COLORS[2]), (hosp_r2_08_10, LD_COLORS[1])],
         ref=hosp_ref),
]

marker_edge = dict(width=0.6, color="rgba(40,40,40,0.55)")

for pnl in panels:
    # recombination rate sits on the base axis so it is drawn beneath the variants
    fig.add_trace(go.Scatter(
        x=[(REGION_START_KB + k) / 1000.0 for k in recomb_kb], y=recomb_rate,
        xaxis=pnl["xaxis"], yaxis=pnl["recomb_axis"], mode="lines",
        line=dict(color="#2020F0", width=1.5), showlegend=False, hoverinfo="skip"))
    # weakly linked and unlinked variants, drawn in chromosome order so the colours interleave
    xs, ys, cs = merged_by_position(pnl["background"])
    fig.add_trace(go.Scatter(
        x=xs, y=ys, xaxis=pnl["xaxis"], yaxis=pnl["p_axis"], mode="markers",
        marker=dict(size=9, color=cs, line=marker_edge), showlegend=False))
    for pairs, color in pnl["layers"]:
        xs, ys = to_mb(pairs)
        fig.add_trace(go.Scatter(
            x=xs, y=ys, xaxis=pnl["xaxis"], yaxis=pnl["p_axis"], mode="markers",
            marker=dict(size=9, color=color, line=marker_edge), showlegend=False))
    xs, ys = to_mb(pnl["ref"])
    fig.add_trace(go.Scatter(
        x=xs, y=ys, xaxis=pnl["xaxis"], yaxis=pnl["p_axis"], mode="markers",
        marker=dict(size=12, symbol="diamond-tall", color=LD_COLORS[0], line=marker_edge),
        showlegend=False))

# ---------------------------------------------------------------- layout
X_DOMAIN = [px_x(45), px_x(1205)]
TOP_DOMAIN = [px_y(279.3), px_y(11)]
BOT_DOMAIN = [px_y(577.3), px_y(302)]
GENE_DOMAIN = [0, px_y(620)]

tick_font = dict(family=FONT, size=9, color=TEXT_COLOR)
common_axis = dict(showline=True, linecolor=AXIS_COLOR, linewidth=1, ticks="outside",
                   ticklen=5, tickcolor=AXIS_COLOR, tickwidth=1, showgrid=False,
                   zeroline=False, tickfont=tick_font, fixedrange=True)

layout = dict(
    width=W, height=H, autosize=False,
    margin=dict(l=0, r=0, t=0, b=0),
    paper_bgcolor="white", plot_bgcolor="white",
    font=dict(family=FONT, color=TEXT_COLOR),
    showlegend=False,
    xaxis=dict(domain=X_DOMAIN, range=X_RANGE_MB, anchor="y", tickvals=X_TICKS_MB,
               ticktext=X_TICK_TEXT, **common_axis),
    yaxis=dict(domain=TOP_DOMAIN, range=[0, 100], side="right", anchor="x",
               tickvals=RECOMB_TICKS, **common_axis),
    yaxis2=dict(overlaying="y", range=SUSC_P_RANGE, side="left", anchor="x",
                tickvals=SUSC_P_TICKS, **common_axis),
    xaxis2=dict(domain=X_DOMAIN, range=X_RANGE_MB, anchor="y3", tickvals=X_TICKS_MB,
                ticktext=X_TICK_TEXT, **common_axis),
    yaxis3=dict(domain=BOT_DOMAIN, range=[0, 100], side="right", anchor="x2",
                tickvals=RECOMB_TICKS, **common_axis),
    yaxis4=dict(overlaying="y3", range=HOSP_P_RANGE, side="left", anchor="x2",
                tickvals=HOSP_P_TICKS, **common_axis),
    xaxis3=dict(domain=X_DOMAIN, range=X_RANGE_MB, anchor="y5", visible=False, fixedrange=True),
    yaxis5=dict(domain=GENE_DOMAIN, range=[-1.311, 0.623], anchor="x3", visible=False, fixedrange=True),
)
fig.update_layout(**layout)

shapes = []
annotations = []

# genome-wide significance and light top border of each panel
for xref, yref, dom in [("x", "y2", TOP_DOMAIN), ("x2", "y4", BOT_DOMAIN)]:
    shapes.append(dict(type="line", xref=xref, yref=yref, x0=X_RANGE_MB[0], x1=X_RANGE_MB[1],
                       y0=GWS_LOG10P, y1=GWS_LOG10P, layer="below",
                       line=dict(color="#D2D2D2", width=2, dash="10px,7px")))
    shapes.append(dict(type="line", xref="paper", yref="paper", x0=X_DOMAIN[0], x1=X_DOMAIN[1],
                       y0=dom[1], y1=dom[1], line=dict(color="#DDDDDD", width=1)))

# panel titles
for title, ty, tx in [(PANEL_TITLES[0], 26, 1200), (PANEL_TITLES[1], 320, 1205)]:
    annotations.append(dict(text=title, xref="paper", yref="paper", x=px_x(tx), y=px_y(ty),
                            xanchor="right", yanchor="middle", showarrow=False,
                            font=dict(family=FONT, size=23, color="#1A1A1A")))

# axis titles
for cy in (145, 440):
    annotations.append(dict(text="<b>-log10 p-value</b>", xref="paper", yref="paper",
                            x=px_x(17), y=px_y(cy), textangle=-90, showarrow=False,
                            xanchor="center", yanchor="middle",
                            font=dict(family=FONT, size=10, color="#111111")))
    annotations.append(dict(text="<b>Recombination Rate (cM/Mb)</b>", xref="paper", yref="paper",
                            x=px_x(1237), y=px_y(cy), textangle=-90, showarrow=False,
                            xanchor="center", yanchor="middle",
                            font=dict(family=FONT, size=9.5, color="#111111")))
annotations.append(dict(text="<b>Chromosome 3 (Mb)</b>", xref="paper", yref="paper",
                        x=px_x(625), y=px_y(600), showarrow=False, xanchor="center",
                        yanchor="middle", font=dict(family=FONT, size=10, color="#111111")))


# LD legends
def add_ld_legend(left, top, width, height, first_row, step, sym_dx, txt_dx):
    shapes.append(dict(type="rect", xref="paper", yref="paper",
                       x0=px_x(left), x1=px_x(left + width), y0=px_y(top + height), y1=px_y(top),
                       line=dict(color="#5A5A5A", width=1.2), fillcolor="rgba(250,250,250,0.96)"))
    for i, (label, color) in enumerate(zip(LD_LABELS, LD_COLORS)):
        cy = top + first_row + i * step
        ax, ay = px_x(left + sym_dx), px_y(cy)
        if i == 0:
            shapes.append(dict(type="path", xref="paper", yref="paper", xsizemode="pixel",
                               ysizemode="pixel", xanchor=ax, yanchor=ay,
                               path="M 0,6 L 3.2,0 L 0,-6 L -3.2,0 Z", fillcolor=color,
                               line=dict(color=color, width=0.5)))
        else:
            shapes.append(dict(type="circle", xref="paper", yref="paper", xsizemode="pixel",
                               ysizemode="pixel", xanchor=ax, yanchor=ay,
                               x0=-3.6, x1=3.6, y0=-3.6, y1=3.6, fillcolor=color,
                               line=dict(color="rgba(40,40,40,0.5)", width=0.6)))
        annotations.append(dict(text=label, xref="paper", yref="paper", x=px_x(left + txt_dx),
                                y=ay, xanchor="left", yanchor="middle", showarrow=False,
                                font=dict(family=FONT, size=9, color=TEXT_COLOR)))


add_ld_legend(49, 14.3, 71.7, 118.4, 10.7, 16.1, 7.7, 14.5)
add_ld_legend(47.7, 307.3, 70, 114.4, 10.0, 15.6, 8.0, 14.0)

# gene track
EXON_HALF = 0.148
LABEL_DY = 0.31
px_per_mb = (1205 - 45) / (X_RANGE_MB[1] - X_RANGE_MB[0])
for name, strand, row, gs, ge, exons in zip(gene_names, gene_strand, gene_row,
                                             gene_start, gene_end, gene_exons):
    yc = -row
    shapes.append(dict(type="line", xref="x3", yref="y5", x0=gs, x1=ge, y0=yc, y1=yc,
                       line=dict(color=GENE_COLOR, width=1.8)))
    for es, ee in exons:
        shapes.append(dict(type="rect", xref="x3", yref="y5", x0=es, x1=ee,
                           y0=yc - EXON_HALF, y1=yc + EXON_HALF, fillcolor=GENE_COLOR,
                           line=dict(color=GENE_COLOR, width=0.8)))
    label = f"{name}→" if strand == "+" else f"←{name}"
    vis_start = max(gs, X_RANGE_MB[0])
    mid = (vis_start + ge) / 2
    half_w = len(label) * 8.5 * 0.32 / px_per_mb
    if mid - half_w < X_RANGE_MB[0]:
        lx, anchor = X_RANGE_MB[0] + 0.00005, "left"
    else:
        lx, anchor = mid, "center"
    annotations.append(dict(text=f"<i>{label}</i>", xref="x3", yref="y5", x=lx, y=yc + LABEL_DY,
                            xanchor=anchor, yanchor="middle", showarrow=False,
                            font=dict(family=FONT, size=8.5, color="#222222")))

fig.update_layout(shapes=shapes, annotations=annotations)
fig.write_html("out.html")
